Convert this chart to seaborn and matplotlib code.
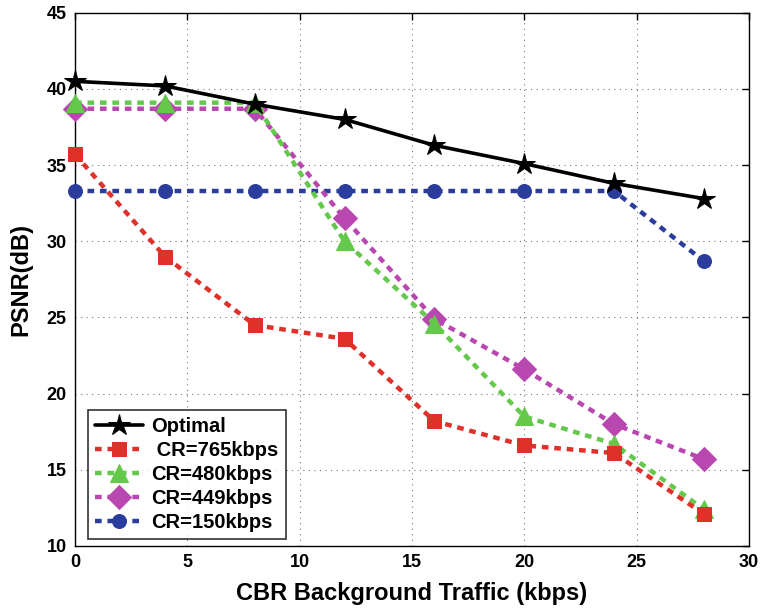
import matplotlib
matplotlib.use("Agg")
import matplotlib.pyplot as plt
import seaborn as sns
import pandas as pd

# CBR background traffic (kbps)
traffic = [0, 4, 8, 12, 16, 20, 24, 28]

psnr_optimal = [40.5, 40.2, 39.0, 38.0, 36.3, 35.1, 33.8, 32.8]
psnr_765 = [35.7, 29.0, 24.5, 23.6, 18.2, 16.6, 16.1, 12.1]
psnr_480 = [39.1, 39.1, 39.1, 30.0, 24.6, 18.5, 16.7, 12.4]
psnr_449 = [38.7, 38.7, 38.7, 31.5, 24.9, 21.6, 18.0, 15.7]
psnr_150 = [33.3, 33.3, 33.3, 33.3, 33.3, 33.3, 33.3, 28.7]

labels = ["Optimal", " CR=765kbps", "CR=480kbps", "CR=449kbps", "CR=150kbps"]
colors = ["black", "#e0302a", "#64c84a", "#b848b0", "#2a3c9c"]
markers = ["*", "s", "^", "D", "o"]
msizes = [16, 10, 13, 12, 10]

sns.set_style("white")
plt.rcParams["font.family"] = ["Liberation Sans", "DejaVu Sans"]
plt.rcParams["font.weight"] = "bold"

fig = plt.figure(figsize=(7.61, 6.08), dpi=100)
ax = fig.add_axes([0.0986, 0.102, 0.8854, 0.877])

series = [psnr_optimal, psnr_765, psnr_480, psnr_449, psnr_150]
for i, (vals, lab) in enumerate(zip(series, labels)):
    df = pd.DataFrame({"traffic": traffic, "psnr": vals})
    if i == 0:
        ls, lw = "-", 2.6
    else:
        ls, lw = (0, (1.5, 1.3)), 3.2
    sns.lineplot(data=df, x="traffic", y="psnr", ax=ax, color=colors[i],
                 marker=markers[i], markersize=msizes[i],
                 markeredgecolor=colors[i], markerfacecolor=colors[i],
                 linestyle=ls, linewidth=lw, label=lab, zorder=3 + (4 - i),
                 clip_on=False)

ax.set_xlim(0, 30)
ax.set_ylim(10, 45)
ax.set_xticks(range(0, 31, 5))
ax.set_yticks(range(10, 46, 5))
ax.grid(True, linestyle=(0, (1, 4)), color="#777777", linewidth=0.8)
ax.tick_params(direction="in", length=5, labelsize=13, width=1, colors="black",
               top=True, right=True, pad=6)
for t in ax.get_xticklabels() + ax.get_yticklabels():
    t.set_fontweight("bold")
for s in ax.spines.values():
    s.set_color("black")
    s.set_linewidth(1.0)

ax.set_xlabel("CBR Background Traffic (kbps)", fontsize=17, fontweight="bold",
              labelpad=8, color="black")
ax.set_ylabel("PSNR(dB)", fontsize=17, fontweight="bold", labelpad=10, color="black")

leg = ax.legend(loc="lower left", bbox_to_anchor=(0.019, 0.013), borderaxespad=0,
                fontsize=14.5, frameon=True, fancybox=False, edgecolor="black",
                handlelength=2.4, borderpad=0.35, labelspacing=0.25,
                handletextpad=0.4)
leg.get_frame().set_linewidth(1.2)
for t in leg.get_texts():
    t.set_fontweight("bold")
    t.set_color("black")

fig.savefig("out.png", dpi=100)
